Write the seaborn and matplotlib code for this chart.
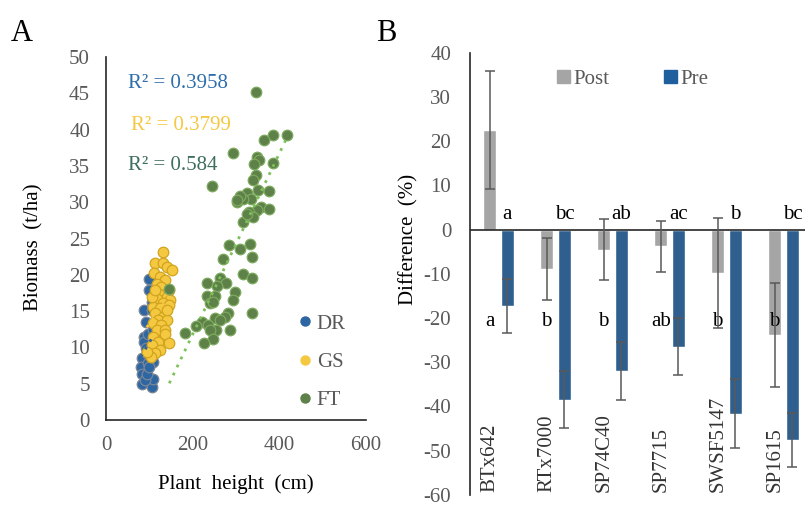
import numpy as np
import pandas as pd
import seaborn as sns
import matplotlib.pyplot as plt
from matplotlib.lines import Line2D
from matplotlib.patches import Patch

# =========================
# DATA - panel A (plant height vs biomass)
# =========================
dr_height = [99, 99, 88, 92, 88, 88, 82, 80, 82, 82, 105, 109, 109, 98, 90,
             94, 105, 98, 103, 94, 100, 92, 105, 109]
dr_biomass = [19.4, 17.9, 15.1, 13.5, 11.5, 10.8, 8.5, 7.3, 6.4, 5.0, 4.6, 5.7,
              8.0, 7.8, 5.5, 9.2, 16.3, 11.9, 10.1, 6.4, 7.3, 9.9, 15.1, 12.4]

gs_height = [131, 113, 132, 140, 152, 111, 125, 135, 117, 128, 145, 122, 140,
             117, 148, 132, 109, 125, 145, 112, 132, 120, 140, 109, 128, 117,
             135, 109, 132, 120, 105, 125, 113, 103, 94, 135, 145, 105, 113, 140]
gs_biomass = [23.2, 21.6, 21.6, 21.1, 20.6, 20.2, 19.7, 19.3, 18.8, 18.3, 17.9,
              17.4, 17.0, 16.7, 16.5, 16.1, 15.6, 15.4, 15.8, 14.7, 14.2, 13.8,
              13.8, 13.3, 13.1, 12.4, 12.4, 11.5, 11.2, 10.8, 10.3, 9.6, 9.2,
              8.7, 9.4, 11.9, 10.6, 17.0, 17.9, 15.1]

ft_height = [345, 386, 417, 365, 294, 348, 354, 342, 386, 345, 340, 244, 350,
             375, 325, 334, 303, 315, 357, 375, 348, 331, 339, 317, 325, 283,
             332, 309, 337, 271, 317, 337, 263, 232, 278, 255, 298, 294, 232,
             251, 240, 248, 338, 282, 275, 251, 263, 221, 236, 207, 182, 286,
             254, 240, 248, 226, 146, 309, 302]
ft_biomass = [45.2, 39.2, 39.2, 38.5, 36.8, 36.2, 35.8, 35.2, 35.4, 33.7, 33.1,
              32.3, 31.7, 31.6, 31.2, 30.4, 30.0, 30.4, 29.4, 29.1, 28.9, 28.7,
              28.0, 27.3, 28.4, 24.1, 24.2, 23.6, 22.4, 22.2, 20.1, 19.6, 19.6,
              18.9, 18.9, 18.4, 17.6, 16.5, 17.1, 17.1, 16.1, 16.3, 14.7, 14.7,
              14.2, 14.0, 13.8, 13.5, 13.1, 12.9, 12.0, 12.4, 12.4, 12.4, 11.2,
              10.6, 18.1, 30.8, 30.3]

r2_labels = ["R\u00b2 = 0.3958", "R\u00b2 = 0.3799", "R\u00b2 = 0.584"]

# =========================
# DATA - panel B (difference %)
# =========================
genotypes = ["BTx642", "RTx7000", "SP74C40", "SP7715", "SWSF5147", "SP1615"]
post_diff = [22.5, -9.0, -4.5, -3.8, -9.8, -23.8]
post_err = [13.3, 7.0, 7.0, 5.7, 12.5, 11.7]
pre_diff = [-17.3, -38.5, -32.0, -26.5, -41.7, -47.5]
pre_err = [6.2, 6.5, 6.5, 6.5, 7.8, 6.1]
pre_letters = ["a", "bc", "ab", "ac", "b", "bc"]
post_letters = ["a", "b", "b", "ab", "b", "b"]

# =========================
# STYLE
# =========================
sns.set_style("white")
plt.rcParams["font.family"] = ["Liberation Serif", "DejaVu Serif"]
plt.rcParams["font.size"] = 15
plt.rcParams["axes.unicode_minus"] = False

GREY_TXT = "#595959"
DR_C, GS_C, FT_C = "#2E66A3", "#F5C842", "#5E8049"
POST_C, PRE_C = "#A5A5A5", "#1F5F9E"

fig = plt.figure(figsize=(8.05, 5.08), dpi=100)

# =========================
# PANEL A
# =========================
axA = fig.add_axes([0.1317, 0.1732, 0.323, 0.7146])

df_a = pd.concat([
    pd.DataFrame({"height": dr_height, "biomass": dr_biomass, "group": "DR"}),
    pd.DataFrame({"height": gs_height, "biomass": gs_biomass, "group": "GS"}),
    pd.DataFrame({"height": ft_height, "biomass": ft_biomass, "group": "FT"}),
])

styles = {
    "DR": (DR_C, "#7A8696"),
    "GS": (GS_C, "#D2A41E"),
    "FT": (FT_C, "#7DAA5E"),
}
for z, (grp, (fc, ec)) in enumerate(styles.items()):
    sub = df_a[df_a["group"] == grp]
    sns.scatterplot(data=sub, x="height", y="biomass", color=fc,
                    edgecolor=ec, linewidth=0.9, s=58, ax=axA,
                    zorder=2 + z, legend=False)

# dotted linear trendlines
line_cols = {"DR": "#2E66A3", "GS": "#F5C842", "FT": "#7CC25A"}
for grp, lc in line_cols.items():
    sub = df_a[df_a["group"] == grp]
    k, b = np.polyfit(sub["height"], sub["biomass"], 1)
    xs = np.array([sub["height"].min(), sub["height"].max()])
    axA.plot(xs, k * xs + b, ls=(0, (1, 2.2)), lw=2, color=lc, zorder=10)

axA.set_xlim(0, 600)
axA.set_ylim(0, 50)
axA.set_xticks(range(0, 601, 200))
axA.set_yticks(range(0, 51, 5))
sns.despine(ax=axA)
for sp in ["left", "bottom"]:
    axA.spines[sp].set_color("#262626")
    axA.spines[sp].set_linewidth(1.2)
axA.tick_params(axis="both", direction="out", length=5.5, width=1.2,
                colors="#262626", labelcolor=GREY_TXT, labelsize=15, pad=6)
axA.set_xlabel("Plant  height  (cm)", fontsize=15, color="black")
axA.set_ylabel("Biomass  (t/ha)", fontsize=15, color="black")
axA.xaxis.set_label_coords(0.5, -0.15)
axA.yaxis.set_label_coords(-0.24, 0.477)

r2_cols = ["#2E6EAB", "#F5C842", "#3E6E5C"]
r2_pos = [(51, 46.4), (58, 40.6), (51, 35.1)]
for txt, c, (x, y) in zip(r2_labels, r2_cols, r2_pos):
    axA.text(x, y, txt, color=c, fontsize=15, va="center", ha="left")

handles = [Line2D([], [], ls="", marker="o", markersize=6.5,
                  markerfacecolor=fc, markeredgecolor=fc)
           for fc in [DR_C, GS_C, FT_C]]
leg = axA.legend(handles, ["DR", "GS", "FT"], loc="lower left",
                 bbox_to_anchor=(0.67, -0.025), frameon=False, fontsize=15,
                 handlelength=0.6, handletextpad=0.25, labelspacing=0.9)
for t in leg.get_texts():
    t.set_color(GREY_TXT)

# =========================
# PANEL B
# =========================
axB = fig.add_axes([0.5839, 0.026, 0.4248, 0.87])

df_b = pd.concat([
    pd.DataFrame({"genotype": genotypes, "diff": post_diff, "time": "Post"}),
    pd.DataFrame({"genotype": genotypes, "diff": pre_diff, "time": "Pre"}),
])
sns.barplot(data=df_b, x="genotype", y="diff", hue="time",
            palette={"Post": POST_C, "Pre": PRE_C}, width=0.62, gap=0.29,
            errorbar=None, ax=axB, legend=False, zorder=2)

for cont, vals, errs in zip(axB.containers, [post_diff, pre_diff],
                            [post_err, pre_err]):
    xs = [bar.get_x() + bar.get_width() / 2 for bar in cont]
    axB.errorbar(xs, vals, yerr=errs, fmt="none", ecolor=GREY_TXT,
                 elinewidth=1.1, capsize=3.5, capthick=1.1, zorder=4)

post_x = [bar.get_x() + bar.get_width() / 2 for bar in axB.containers[0]]
pre_x = [bar.get_x() + bar.get_width() / 2 for bar in axB.containers[1]]
for x, lab in zip(pre_x, pre_letters):
    axB.text(x, 3.4, lab, ha="center", va="center", fontsize=15, color="black")
for x, lab in zip(post_x, post_letters):
    axB.text(x, -20.8, lab, ha="center", va="center", fontsize=15,
             color="black", zorder=3)
for x, lab in zip(post_x, genotypes):
    axB.text(x, -59.3, lab, rotation=90, ha="center", va="bottom",
             fontsize=15, color="#333333")

axB.axhline(0, color="#262626", lw=1.2, zorder=3)
axB.set_xlim(-0.5, 5.5)
axB.set_ylim(-60, 40)
axB.set_yticks(range(-60, 41, 10))
axB.set_xticks([])
axB.set_xlabel("")
sns.despine(ax=axB, bottom=True)
axB.spines["left"].set_color("#262626")
axB.spines["left"].set_linewidth(1.2)
axB.tick_params(axis="y", direction="out", length=5.5, width=1.2,
                colors="#262626", labelcolor=GREY_TXT, labelsize=15, pad=8)
axB.set_ylabel("Difference  (%)", fontsize=15, color="black")
axB.yaxis.set_label_coords(-0.15, 0.577)

legB = axB.legend([Patch(color=POST_C), Patch(color=PRE_C)], ["Post", "Pre"],
                  loc="center left", bbox_to_anchor=(0.2, 0.94), ncol=2,
                  frameon=False, fontsize=15, handlelength=0.6,
                  handleheight=0.6, handletextpad=0.2, columnspacing=2.6)
for t in legB.get_texts():
    t.set_color(GREY_TXT)

# panel letters
fig.text(0.013, 0.935, "A", fontsize=22, color="black", va="center")
fig.text(0.467, 0.935, "B", fontsize=22, color="black", va="center")

fig.savefig("out.png", dpi=100)
